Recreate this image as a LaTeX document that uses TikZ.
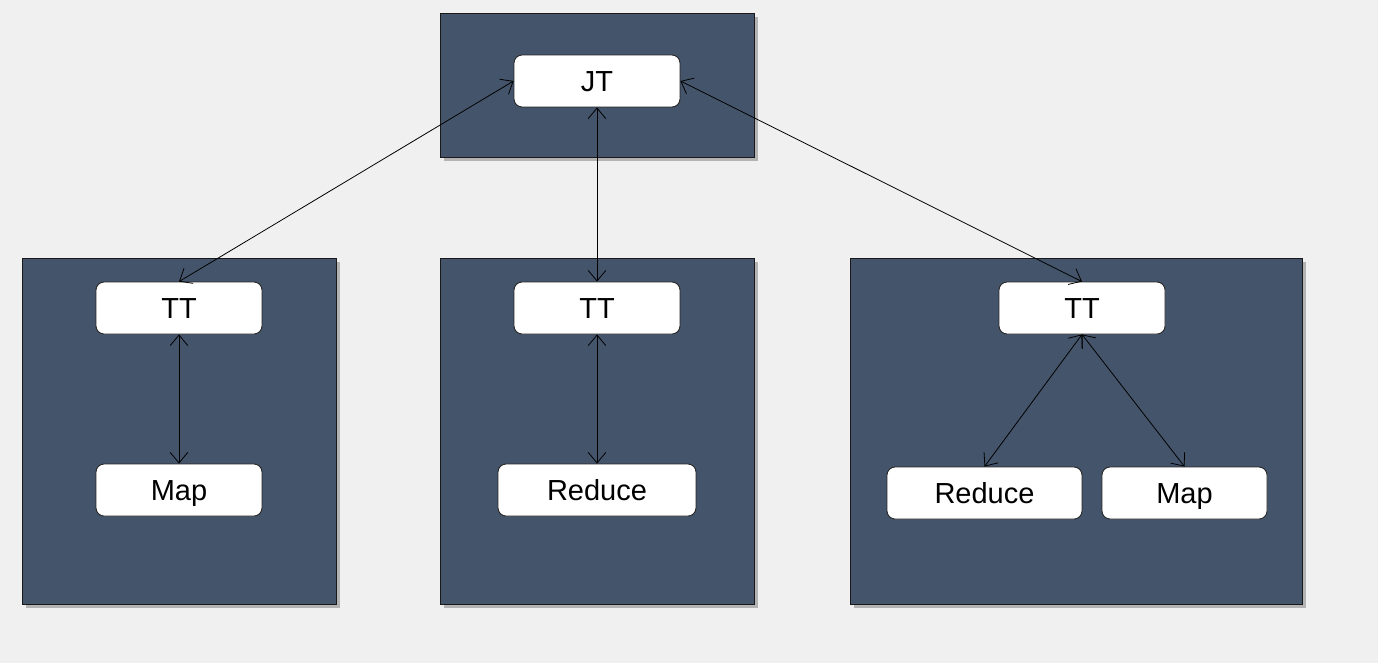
\documentclass[tikz,border=0pt]{standalone}
\usepackage{fontspec}
\setmainfont{Liberation Sans}
\usetikzlibrary{positioning,calc,arrows.meta,shadows}
\definecolor{slate}{HTML}{44546A}
\definecolor{bggray}{HTML}{F0F0F0}
\tikzset{font=\fontsize{16.5}{19}\selectfont}

\begin{document}
\begin{tikzpicture}[x=0.02cm, y=-0.02cm]
	\fill[bggray] (0,0) rectangle (1378,663);
	\useasboundingbox (0,0) rectangle (1378,663);
	\begin{scope}
		\tikzstyle{every node}=[align=center, inner sep=1pt]
		\tikzstyle{panel}=[draw=black!90, fill=slate, line width=0.45pt, drop shadow={shadow xshift=2.5pt, shadow yshift=-2.5pt, fill=black, opacity=0.25}]
		\tikzstyle{task}=[draw=black!85, fill=white, line width=0.5pt, rounded corners=0.16cm, minimum width=3.32cm, minimum height=1.04cm, text height=13.5pt, text depth=1.5pt]
		\tikzstyle{link}=[<->, >={Straight Barb[length=6pt, width=10pt]}, line width=0.45pt]

		\draw[panel] (440, 13) rectangle (754, 157);
		\draw[panel] (22, 258) rectangle (336, 604);
		\draw[panel] (440, 258) rectangle (754, 604);
		\draw[panel] (850, 258) rectangle (1302, 604);

		\node[task] (jt) at (597, 81) {JT};

		\node[task] (tta) at (179, 308) {TT};
		\node[task] (mapa) at (179, 490) {Map};

		\node[task] (ttb) at (597, 308) {TT};
		\node[task, minimum width=3.96cm] (redb) at (597, 490) {Reduce};

		\node[task] (ttc) at (1082, 308) {TT};
		\node[task, minimum width=3.9cm] (redc) at (984.5, 493) {Reduce};
		\node[task, minimum width=3.3cm] (mapc) at (1184.5, 493) {Map};

		\draw[link] (jt.west) to (tta.north);
		\draw[link] (jt.south) to (ttb.north);
		\draw[link] (jt.east) to (ttc.north);
		\draw[link] (tta.south) to (mapa.north);
		\draw[link] (ttb.south) to (redb.north);
		\draw[link] (ttc.south) to (redc.north);
		\draw[link] (ttc.south) to (mapc.north);
	\end{scope}
\end{tikzpicture}
\end{document}
